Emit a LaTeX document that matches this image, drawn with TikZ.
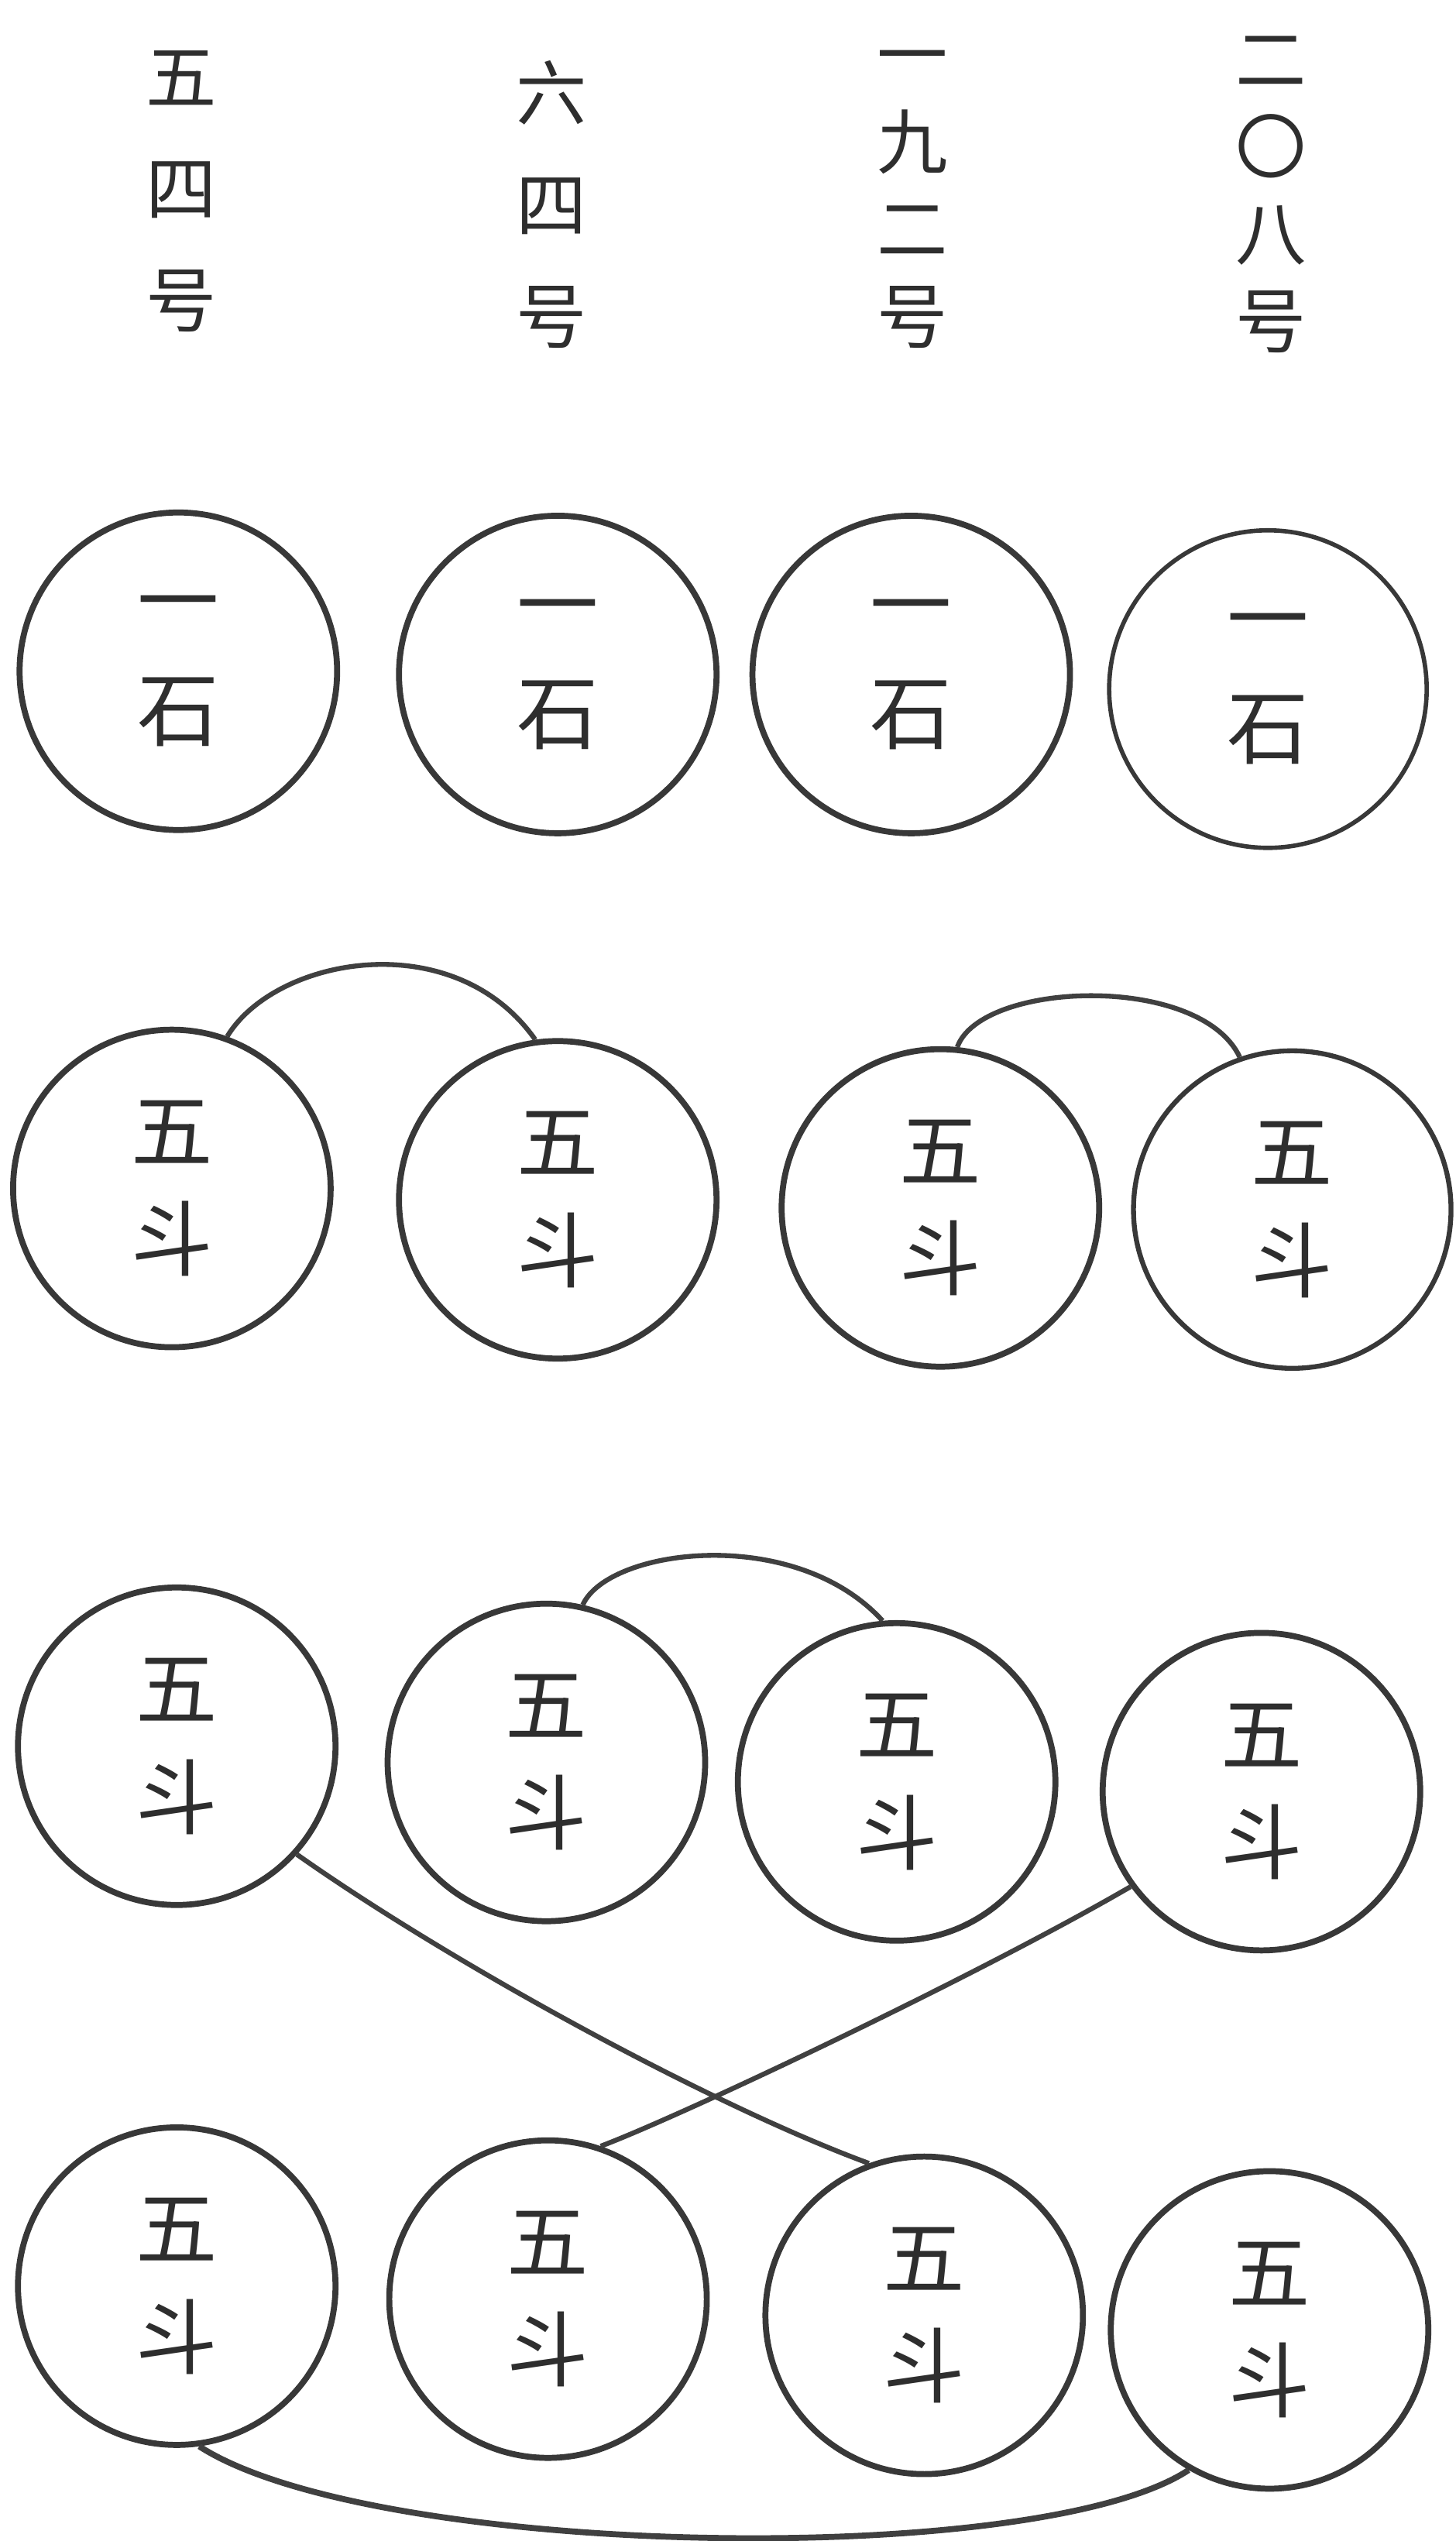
\documentclass[tikz,border=0pt]{standalone}
\usepackage{fontspec}
\newfontfamily\cjk{Noto Sans CJK SC}
\begin{document}
\begin{tikzpicture}[x=0.20935mm,y=-0.20935mm,
  pot/.style={circle, draw=black!78, line width=2.2pt, minimum size=41mm, inner sep=0pt,
    align=center, text=black!82, font=\cjk\fontsize{30}{40}\selectfont},
  lbl/.style={align=center, text=black!82, inner sep=0pt, font=\cjk\fontsize{26}{#1}\selectfont},
  link/.style={draw=black!75, line width=1.8pt}]
\useasboundingbox (0,0) rectangle (898,1567.2);
% column labels
\node[lbl=41] (l1) at (112,118) {五\\四\\号};
\node[lbl=41] (l2) at (340,126) {六\\四\\号};
\node[lbl=32] (l3) at (563,123) {一\\九\\二\\号};
\node[lbl=32] (l4) at (784,120) {二\\〇\\八\\号};
% row 1
\node[pot] (a1) at (110,414) {一\\石};
\node[pot] (a2) at (344,416) {一\\石};
\node[pot] (a3) at (562,416) {一\\石};
\node[pot, line width=1.6pt] (a4) at (782,425) {一\\石};
% row 2
\node[pot] (b1) at (106,733) {五\\斗};
\node[pot] (b2) at (344,740) {五\\斗};
\node[pot] (b3) at (580,745) {五\\斗};
\node[pot, line width=1.8pt] (b4) at (797,746) {五\\斗};
% row 3
\node[pot] (c1) at (109,1077) {五\\斗};
\node[pot] (c2) at (337,1087) {五\\斗};
\node[pot] (c3) at (553,1099) {五\\斗};
\node[pot] (c4) at (778,1105) {五\\斗};
% row 4
\node[pot] (d1) at (109,1410) {五\\斗};
\node[pot] (d2) at (338,1418) {五\\斗};
\node[pot] (d3) at (570,1428) {五\\斗};
\node[pot] (d4) at (783,1437) {五\\斗};
% connectors
\draw[link] (b1.70) .. controls (170,590) and (280,570) .. (b2.98);
\draw[link] (b3.84) .. controls (605,605) and (740,600) .. (b4.109);
\draw[link] (c2.77) .. controls (375,955) and (490,940) .. (c3.95);
\draw[link] (c1.-42) .. controls (280,1212) and (440,1299) .. (d3.110);
\draw[link] (c4.216) .. controls (600,1220) and (420,1305) .. (d2.71);
\draw[link, line width=2.2pt] (d1.-82) .. controls (230,1578) and (640,1585) .. (d4.240);
\end{tikzpicture}
\end{document}
